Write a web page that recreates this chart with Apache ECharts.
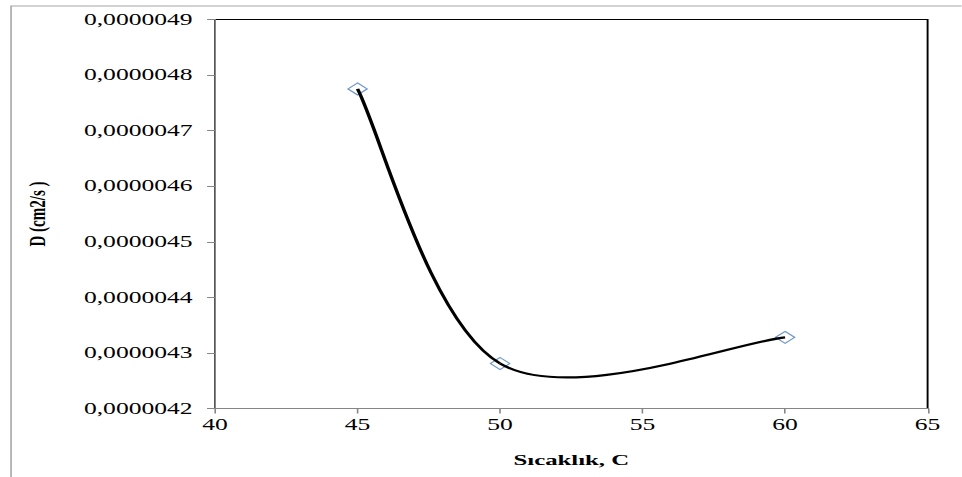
<!DOCTYPE html>
<html><head><meta charset="utf-8">
<script src="https://cdn.jsdelivr.net/npm/echarts@6/dist/echarts.min.js"></script>
<style>
html,body{margin:0;padding:0;background:#fff;overflow:hidden;}
#wrap{width:962px;height:477px;overflow:hidden;position:relative;}
#chart{width:601.25px;height:477px;transform:scaleX(1.6);transform-origin:0 0;}
</style></head>
<body><div id="wrap"><div id="chart"></div></div>
<script>
// Data
const temperatures = [45, 50, 60];
const diffusivity = [4.775e-6, 4.281e-6, 4.328e-6];
const xTicks = [40, 45, 50, 55, 60, 65];
const yTicks = [4.2e-6, 4.3e-6, 4.4e-6, 4.5e-6, 4.6e-6, 4.7e-6, 4.8e-6, 4.9e-6];
const xTitle = 'Sıcaklık, C';
const yTitle = 'D (cm2/s )';

const points = temperatures.map((t, i) => [t, diffusivity[i]]);
const FONT = '"Liberation Serif", "Times New Roman", serif';

const chart = echarts.init(document.getElementById('chart'), null, {renderer: 'svg'});
chart.setOption({
  animation: false,
  backgroundColor: '#fff',
  graphic: [{
    type: 'rect', left: 4.4, top: 3.5, silent: true,
    shape: {x: 0, y: 0, width: 600, height: 471.5},
    style: {fill: 'none', stroke: '#a6a6a6', lineWidth: 1}
  }],
  grid: {left: 134.4, right: 21.25, top: 19.5, bottom: 68.5, show: true,
         borderColor: '#000', borderWidth: 1.2, backgroundColor: 'transparent'},
  xAxis: {
    type: 'value', min: xTicks[0], max: xTicks[xTicks.length - 1], interval: 5,
    name: xTitle, nameLocation: 'middle', nameGap: 43,
    nameTextStyle: {fontFamily: FONT, fontWeight: 'bold', fontSize: 15.5, color: '#000'},
    axisLine: {show: true, lineStyle: {color: '#868686', width: 1}},
    axisTick: {show: true, inside: false, length: 5, lineStyle: {color: '#868686'}},
    axisLabel: {fontFamily: FONT, fontSize: 16, color: '#000', margin: 8},
    splitLine: {show: false}
  },
  yAxis: {
    type: 'value', min: yTicks[0], max: yTicks[yTicks.length - 1], interval: 1e-7,
    name: yTitle, nameLocation: 'middle', nameGap: 104, nameRotate: 90,
    nameTextStyle: {fontFamily: FONT, fontWeight: 'bold', fontSize: 15, color: '#000'},
    axisLine: {show: true, lineStyle: {color: '#868686', width: 1}},
    axisTick: {show: true, inside: false, length: 5, lineStyle: {color: '#868686'}},
    axisLabel: {fontFamily: FONT, fontSize: 16, color: '#000', margin: 14,
      formatter: v => v.toFixed(7).replace('.', ',')},
    splitLine: {show: false}
  },
  series: [
    {
      type: 'scatter', data: points, symbol: 'diamond', symbolSize: 12, z: 2,
      itemStyle: {color: 'rgba(255,255,255,0)', borderColor: '#4a7ebb', borderWidth: 1}
    },
    {
      type: 'custom', data: points, z: 3, silent: true,
      encode: {x: 0, y: 1},
      renderItem: function (params, api) {
        if (params.dataIndex !== 0) return null;
        const pts = points.map(p => api.coord(p));
        const children = [];
        for (let i = 0; i < pts.length - 1; i++) {
          const p0 = pts[Math.max(i - 1, 0)], p1 = pts[i], p2 = pts[i + 1],
                p3 = pts[Math.min(i + 2, pts.length - 1)];
          children.push({
            type: 'bezierCurve',
            shape: {
              x1: p1[0], y1: p1[1], x2: p2[0], y2: p2[1],
              cpx1: p1[0] + (p2[0] - p0[0]) / 6, cpy1: p1[1] + (p2[1] - p0[1]) / 6,
              cpx2: p2[0] - (p3[0] - p1[0]) / 6, cpy2: p2[1] - (p3[1] - p1[1]) / 6
            },
            style: {stroke: '#000', lineWidth: 2.2, fill: null}
          });
        }
        return {type: 'group', children: children};
      }
    }
  ]
});
</script>
</body></html>
